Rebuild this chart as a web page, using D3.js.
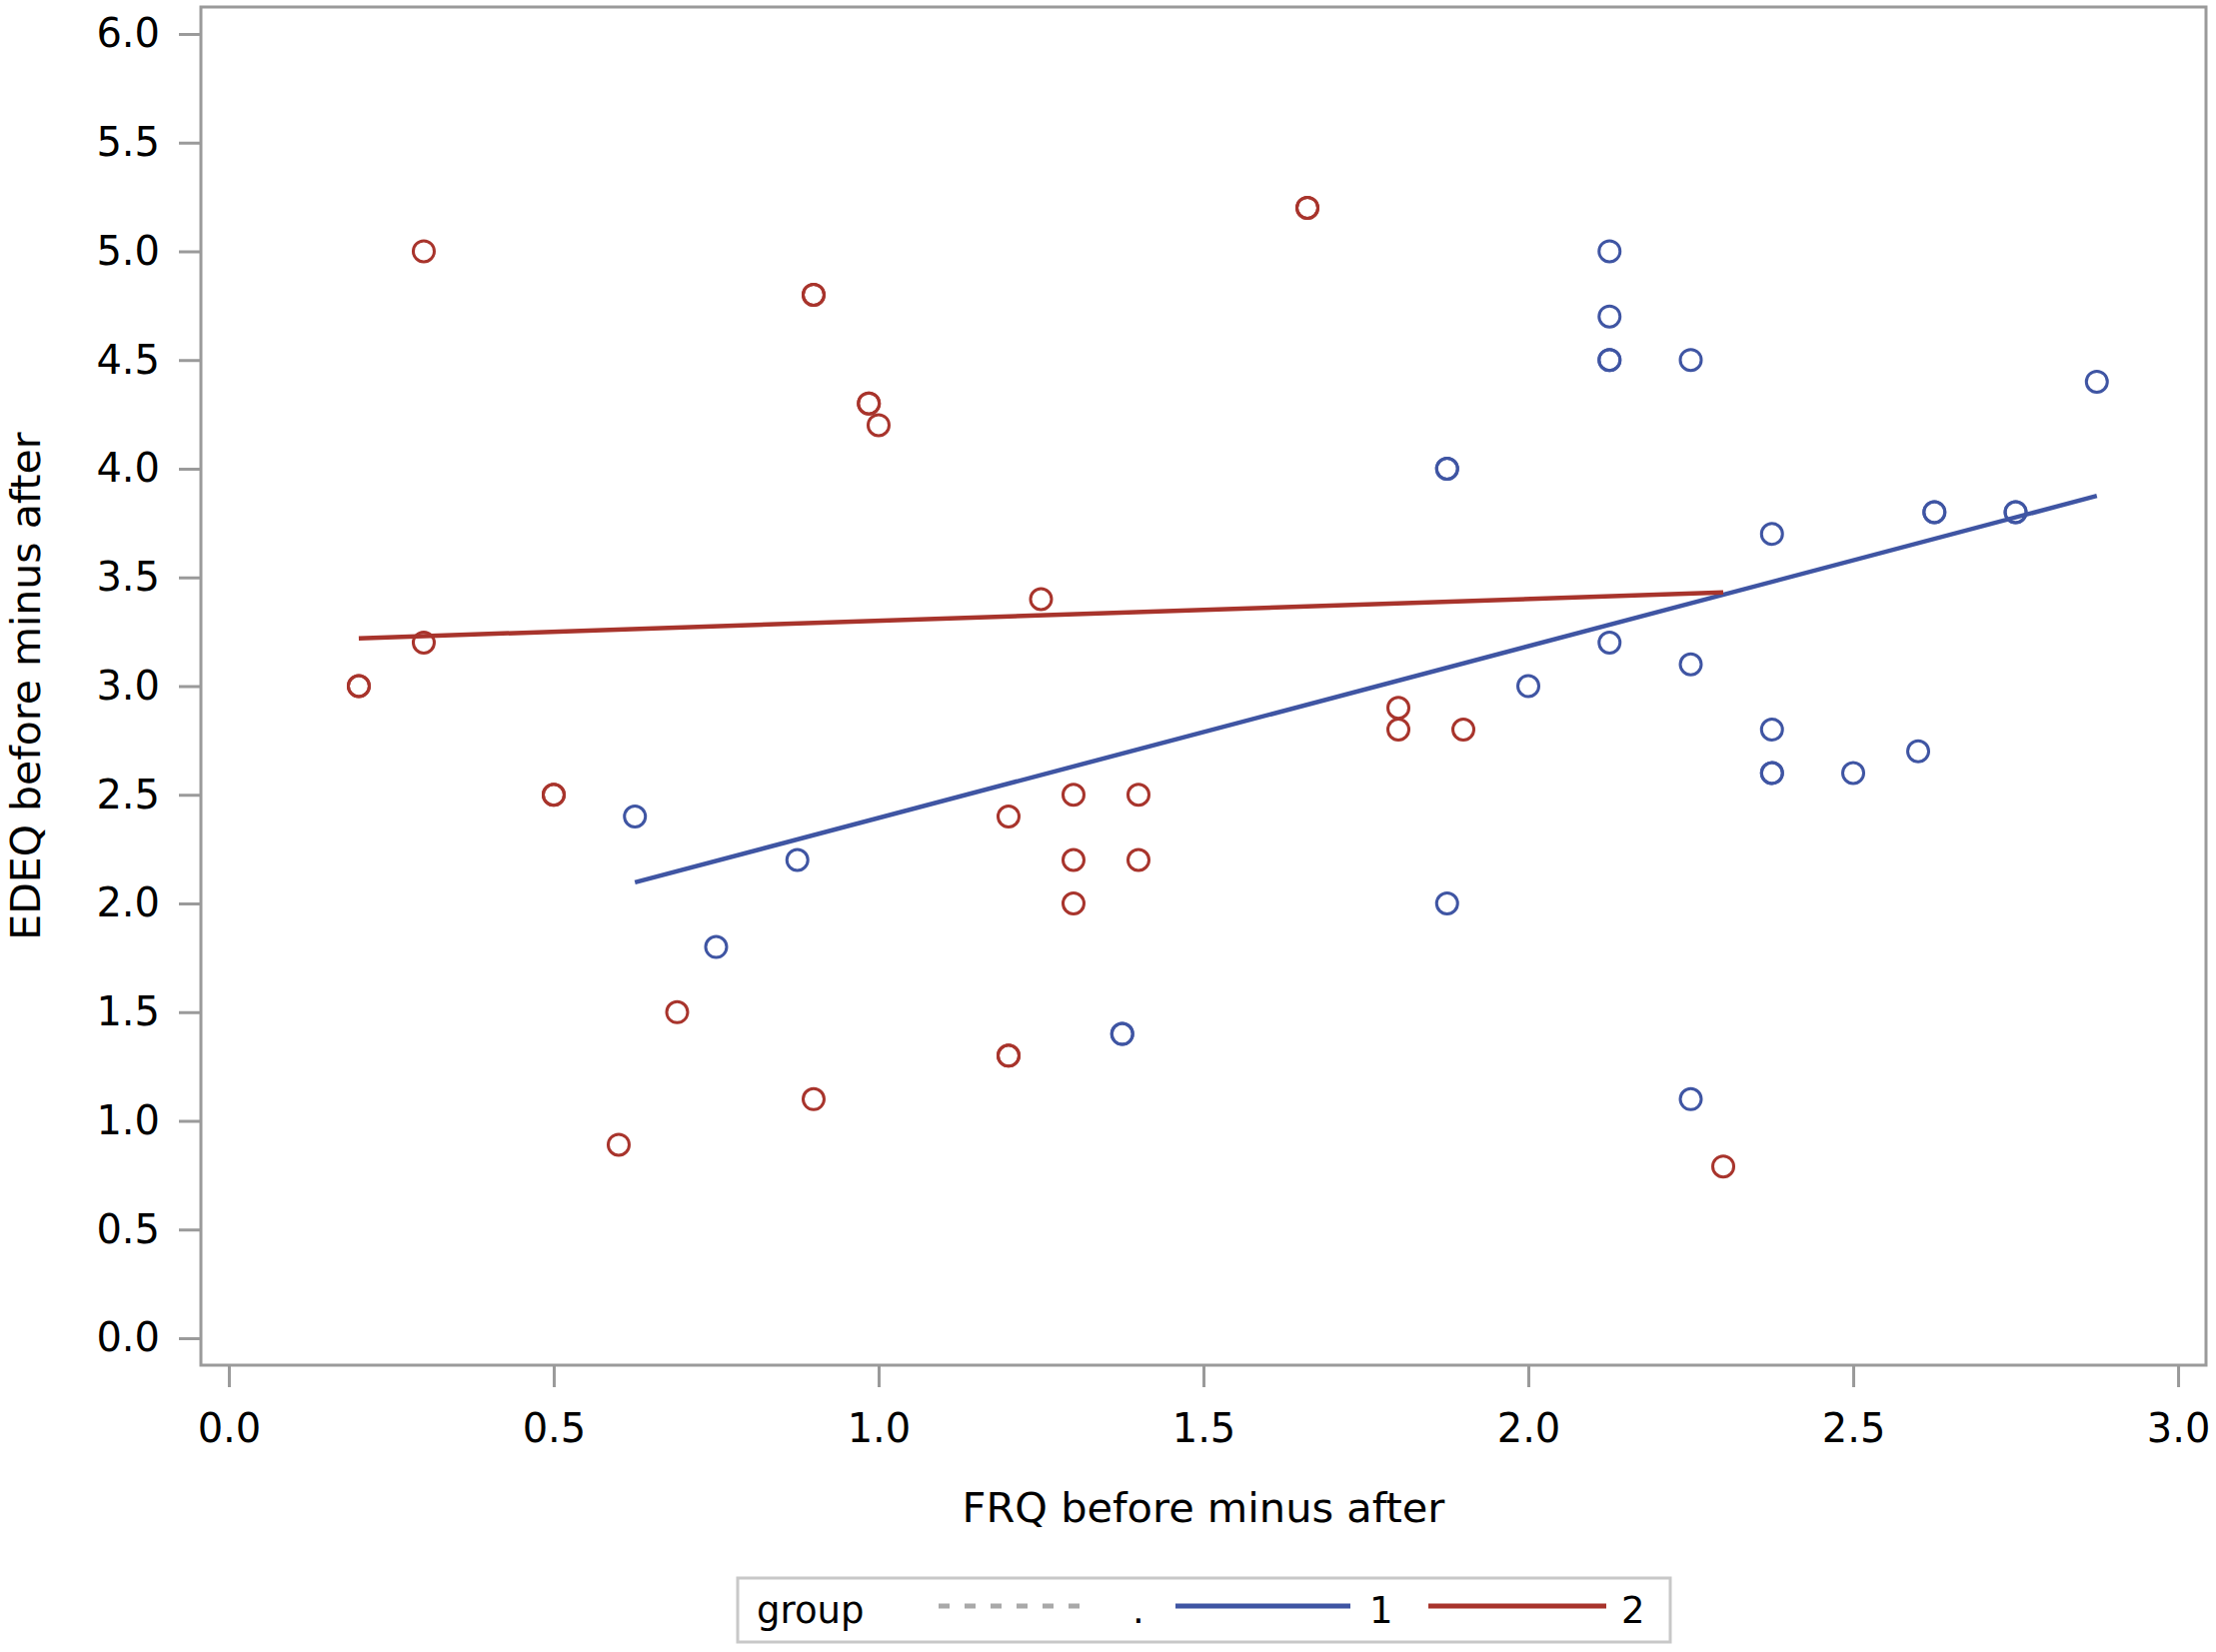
<!DOCTYPE html>
<html>
<head>
<meta charset="utf-8">
<script src="https://cdn.jsdelivr.net/npm/d3@7"></script>
<style>
  body { margin: 0; background: #fff; }
  svg { display: block; }
  text { font-family: "DejaVu Sans", Verdana, sans-serif; fill: #000; }
</style>
</head>
<body>
<svg id="chart" width="2217" height="1653"></svg>
<script>
// group 1 (blue) points, duplicates kept where markers overlap
var group1X = [0.625, 0.875, 0.75, 1.375, 1.375, 1.875, 1.875, 1.875, 2.0, 2.125, 2.125, 2.125, 2.125, 2.125, 2.25, 2.25, 2.25, 2.375, 2.375, 2.375, 2.375, 2.5, 2.6, 2.625, 2.625, 2.75, 2.75, 2.875];
var group1Y = [2.4, 2.2, 1.8, 1.4, 1.4, 4.0, 4.0, 2.0, 3.0, 5.0, 4.7, 4.5, 4.5, 3.2, 4.5, 3.1, 1.1, 3.7, 2.8, 2.6, 2.6, 2.6, 2.7, 3.8, 3.8, 3.8, 3.8, 4.4];

// group 2 (red) points
var group2X = [0.2, 0.2, 0.3, 0.3, 0.5, 0.5, 0.6, 0.69, 0.9, 0.9, 0.9, 0.985, 0.985, 1.0, 1.2, 1.2, 1.2, 1.25, 1.3, 1.3, 1.3, 1.4, 1.4, 1.66, 1.66, 1.8, 1.8, 1.9, 2.3];
var group2Y = [3.0, 3.0, 5.0, 3.2, 2.5, 2.5, 0.89, 1.5, 4.8, 4.8, 1.1, 4.3, 4.3, 4.2, 2.4, 1.3, 1.3, 3.4, 2.5, 2.2, 2.0, 2.5, 2.2, 5.2, 5.2, 2.9, 2.8, 2.8, 0.79];

// fitted regression lines, end points
var fit1X = [0.625, 2.875];
var fit1Y = [2.097, 3.875];
var fit2X = [0.2, 2.3];
var fit2Y = [3.22, 3.431];

var xTicks = [0, 0.5, 1, 1.5, 2, 2.5, 3];
var yTicks = [0, 0.5, 1, 1.5, 2, 2.5, 3, 3.5, 4, 4.5, 5, 5.5, 6];

var groups = [
  {name: "1", xs: group1X, ys: group1Y, fx: fit1X, fy: fit1Y, color: "#3f55a3"},
  {name: "2", xs: group2X, ys: group2Y, fx: fit2X, fy: fit2Y, color: "#a8342c"}
];

var svg = d3.select("#chart");
var plotLeft = 201, plotRight = 2207, plotTop = 7, plotBottom = 1366;
var axisColor = "#9a9a9a";

var x = d3.scaleLinear().domain([-0.043, 3.043]).range([plotLeft, plotRight]);
var y = d3.scaleLinear().domain([-0.124, 6.124]).range([plotBottom, plotTop]);

// frame
svg.append("rect")
    .attr("x", plotLeft).attr("y", plotTop)
    .attr("width", plotRight - plotLeft).attr("height", plotBottom - plotTop)
    .attr("fill", "none")
    .attr("stroke", axisColor)
    .attr("stroke-width", 3);

var fmt = d3.format(".1f");

var yAxis = svg.append("g")
    .attr("transform", "translate(" + plotLeft + ",0)")
    .call(d3.axisLeft(y).tickValues(yTicks).tickFormat(fmt).tickSize(22).tickPadding(19));
var xAxis = svg.append("g")
    .attr("transform", "translate(0," + plotBottom + ")")
    .call(d3.axisBottom(x).tickValues(xTicks).tickFormat(fmt).tickSize(22).tickPadding(27));

[xAxis, yAxis].forEach(function(a) {
  a.select(".domain").remove();
  a.selectAll(".tick line").attr("stroke", axisColor).attr("stroke-width", 3);
  a.selectAll(".tick text")
      .attr("font-family", "DejaVu Sans, Verdana, sans-serif")
      .attr("font-size", 40)
      .attr("fill", "#111");
});

// axis labels
svg.append("text")
    .attr("x", (plotLeft + plotRight) / 2)
    .attr("y", 1523)
    .attr("text-anchor", "middle")
    .attr("font-size", 41.5)
    .text("FRQ before minus after");

svg.append("text")
    .attr("transform", "translate(40," + ((plotTop + plotBottom) / 2) + ") rotate(-90)")
    .attr("text-anchor", "middle")
    .attr("font-size", 41)
    .text("EDEQ before minus after");

// fit lines
var line = d3.line().x(function(d) { return x(d[0]); }).y(function(d) { return y(d[1]); });

groups.forEach(function(g) {
  svg.append("path")
      .datum(d3.zip(g.fx, g.fy))
      .attr("d", line)
      .attr("fill", "none")
      .attr("stroke", g.color)
      .attr("stroke-width", 4.5);
});

// markers
groups.forEach(function(g) {
  svg.append("g").selectAll("circle")
      .data(d3.zip(g.xs, g.ys))
      .enter()
      .append("circle")
      .attr("cx", function(d) { return x(d[0]); })
      .attr("cy", function(d) { return y(d[1]); })
      .attr("r", 10.5)
      .attr("fill", "none")
      .attr("stroke", g.color)
      .attr("stroke-width", 3);
});

// legend
var legend = svg.append("g");
legend.append("rect")
    .attr("x", 738).attr("y", 1579)
    .attr("width", 933).attr("height", 64)
    .attr("fill", "#fff")
    .attr("stroke", "#c8c8c8")
    .attr("stroke-width", 3);

legend.append("text")
    .attr("x", 757).attr("y", 1624)
    .attr("font-size", 37)
    .text("group");

var legendItems = [
  {label: ".", color: "#a9a9a9", x1: 939, x2: 1095, tx: 1133, dash: "11,15"},
  {label: "1", color: groups[0].color, x1: 1176, x2: 1351, tx: 1370, dash: null},
  {label: "2", color: groups[1].color, x1: 1429, x2: 1607, tx: 1622, dash: null}
];

legendItems.forEach(function(d) {
  legend.append("line")
      .attr("x1", d.x1).attr("x2", d.x2)
      .attr("y1", 1607).attr("y2", 1607)
      .attr("stroke", d.color)
      .attr("stroke-width", 5)
      .attr("stroke-dasharray", d.dash);
  legend.append("text")
      .attr("x", d.tx).attr("y", 1624)
      .attr("font-size", 37)
      .text(d.label);
});
</script>
</body>
</html>
